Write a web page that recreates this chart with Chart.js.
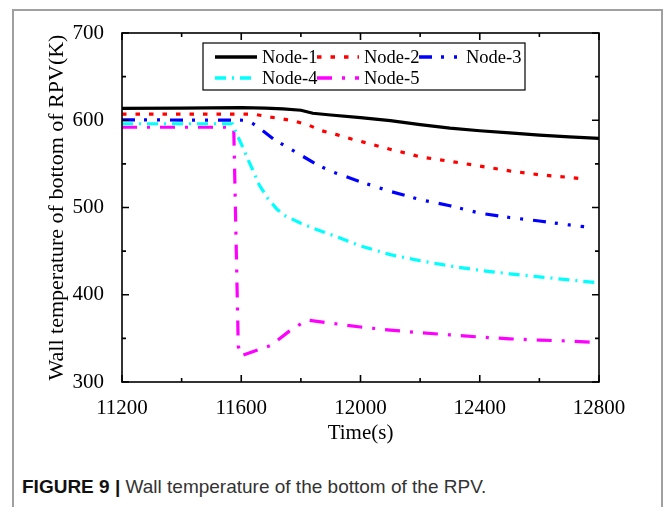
<!DOCTYPE html>
<html>
<head>
<meta charset="utf-8">
<script src="https://cdn.jsdelivr.net/npm/chart.js@4/dist/chart.umd.min.js"></script>
<style>
    body { margin: 0; background: #fff; }
    #wrap { position: relative; width: 664px; height: 507px; overflow: hidden; }
    #frame { position: absolute; left: 12px; top: 9px; width: 647px; height: 540px; border: 2px solid #a0a0a0; }
    #chart { position: absolute; left: 0; top: 0; }
    #caption { position: absolute; left: 22px; top: 476px; font-family: "Liberation Sans", Arial, sans-serif; font-size: 19px; color: #333; white-space: nowrap; }
    #caption b { color: #111; }
</style>
</head>
<body>
<div id="wrap">
    <div id="frame"></div>
    <canvas id="chart" width="664" height="470"></canvas>
    <div id="caption"><b>FIGURE 9 |</b> Wall temperature of the bottom of the RPV.</div>
</div>
<script>
// values (time in s, wall temperature in K)
const node1Time = [11200, 11400, 11600, 11680, 11740, 11800, 11840, 11900, 12000, 12100, 12200, 12300, 12400, 12500, 12600, 12700, 12800];
const node1Temp = [613.5, 614, 614.5, 614, 613, 611.5, 608, 606, 603, 599.5, 595, 591, 588, 585.5, 583, 581, 579.3];

const node2Time = [11200, 11640, 11700, 11740, 11780, 11825, 11870, 11920, 11970, 12013, 12063, 12107, 12157, 12200, 12300, 12400, 12500, 12600, 12700, 12750];
const node2Temp = [607, 607, 603.5, 601.5, 599, 594.5, 588, 583.5, 578.5, 574.6, 570, 566, 562, 558, 553, 547.5, 542, 537.5, 534.5, 532.5];

const node3Time = [11200, 11620, 11640, 11680, 11710, 11750, 11800, 11850, 11900, 12000, 12100, 12200, 12300, 12400, 12500, 12600, 12700, 12750];
const node3Temp = [600.5, 600, 596, 586, 578, 570, 560, 550, 541.5, 529.5, 518.5, 509, 502, 493.5, 488.5, 484.5, 480, 478];

const node4Time = [11200, 11570, 11585, 11600, 11620, 11640, 11660, 11690, 11720, 11750, 11800, 11850, 11900, 12000, 12100, 12200, 12300, 12400, 12500, 12600, 12700, 12790];
const node4Temp = [596, 596, 584, 573, 557, 542, 526, 510, 498, 490, 482, 475, 469, 456, 446, 439, 433, 428, 424, 420.5, 417, 414];

const node5Time = [11200, 11570, 11575, 11590, 11600, 11700, 11760, 11820, 11900, 12000, 12100, 12200, 12300, 12400, 12500, 12600, 12700, 12800];
const node5Temp = [592, 592, 588, 341, 330, 342, 358, 371, 367.5, 363, 359.5, 356.5, 354, 351.5, 349.5, 348, 347, 345];

const seriesNames = ['Node-1', 'Node-2', 'Node-3', 'Node-4', 'Node-5'];
const seriesColors = ['#000000', '#ff0000', '#0000ff', '#00ffff', '#ff00ff'];
const seriesDashes = [[], [4.5, 9], [13, 9, 3, 10, 3, 10], [11, 6, 2, 6], [15, 10, 3, 10]];

const xMin = 11200, xMax = 12800;
const yMin = 300, yMax = 700;

function toPoints(times, temps) {
    return times.map((t, i) => ({ x: t, y: temps[i] }));
}

const allSeries = [
    toPoints(node1Time, node1Temp),
    toPoints(node2Time, node2Temp),
    toPoints(node3Time, node3Temp),
    toPoints(node4Time, node4Temp),
    toPoints(node5Time, node5Temp)
];

const datasets = allSeries.map((pts, i) => ({
    label: seriesNames[i],
    data: pts,
    borderColor: seriesColors[i],
    backgroundColor: seriesColors[i],
    borderWidth: 3.2,
    borderDash: seriesDashes[i],
    pointRadius: 0,
    fill: false,
    tension: 0
}));

// frame with inward ticks on all four sides
const frameTicks = {
    id: 'frameTicks',
    afterDraw(chart) {
        const { ctx, chartArea: a, scales } = chart;
        ctx.save();
        ctx.strokeStyle = '#000';
        ctx.lineWidth = 1.6;
        ctx.strokeRect(a.left, a.top, a.right - a.left, a.bottom - a.top);
        ctx.beginPath();
        for (let v = xMin; v <= xMax; v += 200) {
            const px = scales.x.getPixelForValue(v);
            const len = (v - xMin) % 400 === 0 ? 7 : 4;
            ctx.moveTo(px, a.bottom); ctx.lineTo(px, a.bottom - len);
            ctx.moveTo(px, a.top); ctx.lineTo(px, a.top + len);
        }
        for (let v = yMin; v <= yMax; v += 50) {
            const py = scales.y.getPixelForValue(v);
            const len = (v - yMin) % 100 === 0 ? 7 : 4;
            ctx.moveTo(a.left, py); ctx.lineTo(a.left + len, py);
            ctx.moveTo(a.right, py); ctx.lineTo(a.right - len, py);
        }
        ctx.stroke();
        ctx.restore();
    }
};

// boxed legend inside the plot, three items per row
const boxLegend = {
    id: 'boxLegend',
    afterDraw(chart) {
        const { ctx, chartArea: a } = chart;
        const bx = a.left + 81, by = a.top + 10, bw = 322, bh = 47;
        ctx.save();
        ctx.fillStyle = '#fff';
        ctx.fillRect(bx, by, bw, bh);
        ctx.strokeStyle = '#000';
        ctx.lineWidth = 1.2;
        ctx.strokeRect(bx, by, bw, bh);
        ctx.font = '18.5px "Liberation Serif", "Times New Roman", serif';
        ctx.textBaseline = 'middle';
        ctx.fillStyle = '#000';
        chart.data.datasets.forEach((ds, i) => {
            const col = i % 3, row = Math.floor(i / 3);
            const sx = bx + 12 + col * 102;
            const sy = by + 14 + row * 21;
            ctx.beginPath();
            ctx.strokeStyle = ds.borderColor;
            ctx.lineWidth = 3.6;
            ctx.setLineDash(ds.borderDash);
            ctx.moveTo(sx, sy);
            ctx.lineTo(sx + 42, sy);
            ctx.stroke();
            ctx.setLineDash([]);
            ctx.fillText(ds.label, sx + 47, sy + 1);
        });
        ctx.restore();
    }
};

const ctx = document.getElementById('chart').getContext('2d');
new Chart(ctx, {
    type: 'line',
    data: { datasets: datasets },
    options: {
        responsive: false,
        animation: false,
        layout: { padding: { left: 0, top: 33, right: 65, bottom: 0 } },
        plugins: {
            legend: { display: false },
            tooltip: { enabled: false }
        },
        scales: {
            x: {
                type: 'linear',
                min: xMin,
                max: xMax,
                grid: { display: false },
                border: { display: false },
                ticks: {
                    stepSize: 400,
                    padding: 6,
                    color: '#000',
                    callback: v => String(v),
                    font: { family: '"Liberation Serif", "Times New Roman", serif', size: 21 }
                },
                title: {
                    display: true,
                    text: 'Time(s)',
                    color: '#000',
                    padding: { top: 0, bottom: 24 },
                    font: { family: '"Liberation Serif", "Times New Roman", serif', size: 21 }
                },
                afterFit(scale) { scale.height = 88; }
            },
            y: {
                min: yMin,
                max: yMax,
                grid: { display: false },
                border: { display: false },
                ticks: {
                    stepSize: 100,
                    padding: 10,
                    color: '#000',
                    callback: v => String(v),
                    font: { family: '"Liberation Serif", "Times New Roman", serif', size: 21 }
                },
                title: {
                    display: true,
                    text: 'Wall temperature of bottom of RPV(K)',
                    color: '#000',
                    padding: { top: 44, bottom: 0 },
                    font: { family: '"Liberation Serif", "Times New Roman", serif', size: 22 }
                },
                afterFit(scale) { scale.width = 122; }
            }
        }
    },
    plugins: [frameTicks, boxLegend]
});
</script>
</body>
</html>
